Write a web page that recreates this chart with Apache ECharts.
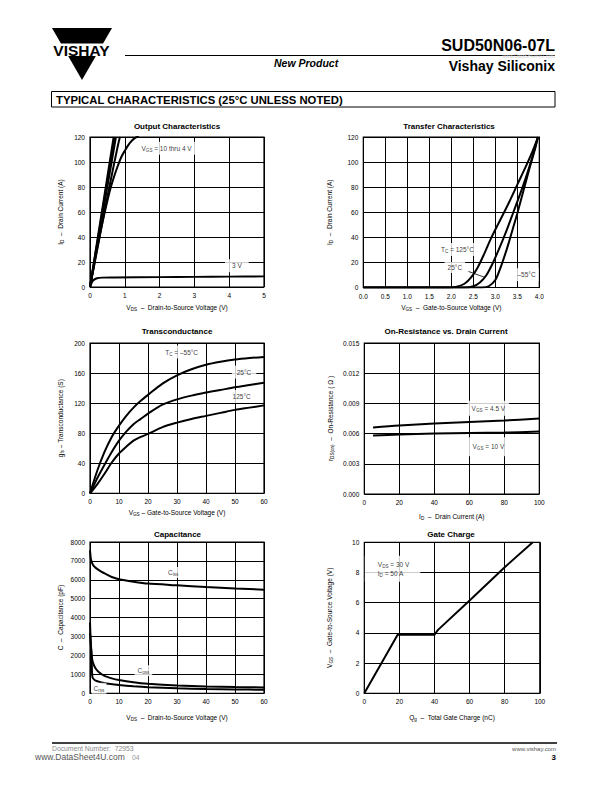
<!DOCTYPE html>
<html><head><meta charset="utf-8">
<script src="https://cdn.jsdelivr.net/npm/echarts@6/dist/echarts.min.js"></script>
<style>html,body{margin:0;padding:0;background:#fff}#c{width:612px;height:792px}</style>
</head><body><div id="c"></div>
<script>
// ---------------- DATA ----------------
// Output Characteristics (VDS V, ID A)
const outVgs10 = [[0,0],[0.68,120]];
const outVgs8  = [[0,0],[0.71,120]];
const outVgs6  = [[0,0],[0.745,120]];
const outVgs5  = [[0,0],[0.2,29],[0.4,58],[0.6,86],[0.8,113],[0.86,120]];
const outVgs4  = [[0,0],[0.1,15],[0.2,30],[0.3,44],[0.4,57],[0.5,69],[0.6,80],[0.7,89],[0.8,97],[0.9,104],[1.0,109],[1.1,113.5],[1.2,117],[1.3,119.3],[1.4,120.5]];
const outVgs3  = [[0,0],[0.05,3.5],[0.1,5.5],[0.2,7],[0.35,7.5],[0.7,7.6],[2,7.9],[3,8.1],[4,8.3],[5,8.5]];
// Transfer Characteristics (VGS V, ID A)
const tf125 = [[0,0],[1.9,0],[2.1,0.5],[2.3,3],[2.45,8],[2.6,16],[2.75,27],[2.9,39],[3.1,53],[3.3,67],[3.5,82],[3.7,97],[3.85,109],[3.97,120]];
const tf25  = [[0,0],[2.3,0],[2.5,1],[2.65,4],[2.8,10],[2.95,20],[3.1,32],[3.25,45],[3.4,59],[3.6,78],[3.8,99],[3.97,120]];
const tfM55 = [[0,0],[2.7,0],[2.85,1],[3.0,6],[3.1,14],[3.2,24],[3.3,35],[3.4,47],[3.5,59],[3.6,72],[3.7,85],[3.8,98],[3.9,110],[3.97,120]];
// Transconductance (VGS V, gfs S)
const gfsM55 = [[0,0],[2.5,30],[5,55],[7.5,75],[10,90],[12.5,103],[15,114],[17.5,123],[20,131],[25,146],[30,157],[35,165],[40,171],[45,175],[50,178],[55,180],[60,181.5]];
const gfs25  = [[0,0],[2.5,20],[5,38],[7.5,55],[10,70],[12.5,82],[15,92],[17.5,99],[20,106],[25,118],[30,125],[35,130],[40,134],[45,137.5],[50,141],[55,144],[60,147]];
const gfs125 = [[0,0],[2.5,12],[5,26],[7.5,41],[10,53],[12.5,62],[15,70],[17.5,75],[20,79],[25,88],[30,94],[35,99],[40,103],[45,107],[50,111],[55,114],[60,117]];
// On-Resistance (ID A, rDS(on) ohm)
const rdsVgs45 = [[5,0.0066],[20,0.0068],[40,0.0070],[60,0.00715],[80,0.0073],[100,0.0075]];
const rdsVgs10 = [[5,0.0058],[20,0.0059],[40,0.0060],[60,0.00605],[80,0.0061],[100,0.0062]];
// Capacitance (VDS V, C pF)
const cIss = [[0,7560],[0.3,7100],[0.6,6940],[1.2,6750],[2.3,6590],[4,6420],[5.7,6290],[7.5,6150],[10,6030],[15,5900],[20,5800],[30,5710],[40,5620],[50,5540],[60,5480]];
const cOss = [[0,3750],[0.2,2900],[0.4,2300],[0.7,1850],[1.1,1580],[2,1300],[3,1130],[5,920],[7.5,790],[10,700],[15,580],[20,500],[30,410],[40,360],[50,330],[60,310]];
const cRss = [[0,3200],[0.3,2600],[0.55,2000],[0.7,1100],[0.9,820],[1.5,720],[2.3,650],[4,570],[5.7,520],[10,440],[15,370],[20,320],[30,265],[40,230],[50,205],[60,185]];
// Gate Charge (Qg nC, VGS V)
const gateCharge = [[0,0],[19,3.88],[40,3.88],[42,4.2],[60,6.15],[80,8.35],[96,10]];

// Annotation texts at data coordinates
const outNotes = [{at:[2.2,111], text:'V{s|GS} = 10 thru 4 V', pad:[2,4]}, {at:[4.22,17], text:'3 V', pad:[2,7]}];
const tfNotes = [{at:[2.14,30.2], text:'T{s|C} = 125°C', pad:[2,4]}, {at:[2.08,16], text:'25°C', pad:[1,3]}, {at:[3.71,10.2], text:'–55°C', pad:[2,3]}];
const tfPointer = [[2.39,12.8],[2.77,8]];
const gfsNotes = [{at:[31.6,188], text:'T{s|C} = –55°C', pad:[2,4]}, {at:[53.1,161.3], text:'25°C', pad:[2,5]}, {at:[52.3,128.8], text:'125°C', pad:[2,3]}];
const rdsNotes = [{at:[70.9,0.00851], text:'V{s|GS} = 4.5 V', pad:[3,4]}, {at:[70.9,0.0047], text:'V{s|GS} = 10 V', pad:[5,4]}];
const capNotes = [{at:[28.7,6390], text:'C{s|iss}', pad:[1,2]}, {at:[18.4,1197], text:'C{s|oss}', pad:[1,3]}, {at:[3.1,265], text:'C{s|rss}', pad:[1,2]}];
const gateNotes = [{at:[0.0,8.25], text:'V{s|DS} = 30 V\nI{s|D} = 50 A', pad:[4,11,4,13], left:true}];

// Axis ranges
const outX = {min:0,max:5,interval:1}, outY = {min:0,max:120,interval:20};
const tfX = {min:0,max:4,interval:0.5}, tfY = {min:0,max:120,interval:20};
const gfsX = {min:0,max:60,interval:10}, gfsY = {min:0,max:200,interval:40};
const rdsX = {min:0,max:100,interval:20}, rdsY = {min:0,max:0.015,interval:0.003};
const capX = {min:0,max:60,interval:10}, capY = {min:0,max:8000,interval:1000};
const gateX = {min:0,max:100,interval:20}, gateY = {min:0,max:10,interval:2};

const titles = ['Output Characteristics','Transfer Characteristics','Transconductance','On-Resistance vs. Drain Current','Capacitance','Gate Charge'];

// ---------------- LAYOUT ----------------
const FONT = "'Liberation Sans', Arial, Helvetica, sans-serif";
const RICH = {s:{fontSize:4.6, lineHeight:5, verticalAlign:'bottom', fontFamily:FONT, color:'#000'}};
const grids = [
  {left:90, top:137, width:174, height:150},
  {left:363.3, top:137, width:176, height:150.5},
  {left:90, top:343, width:174, height:150.3},
  {left:364.3, top:343, width:175, height:151},
  {left:90, top:542, width:174, height:151.3},
  {left:364.3, top:542.3, width:175.5, height:151}
].map(g=>Object.assign({show:true, borderColor:'#000', borderWidth:1.2, backgroundColor:'transparent'}, g));

function xAx(gi, r, name, gap, fmt){
  return Object.assign({type:'value', gridIndex:gi, name, nameLocation:'middle', nameGap:gap,
    nameTextStyle:{fontSize:6.5, lineHeight:9, color:'#000', fontFamily:FONT, rich:RICH},
    axisLine:{show:false}, axisTick:{show:false},
    splitLine:{show:true, lineStyle:{color:'#000', width:1}},
    axisLabel:{fontSize:6.5, color:'#000', fontFamily:FONT, margin:5, formatter:fmt}}, r);
}
function yAx(gi, r, name, gap, fmt){
  const a = xAx(gi, r, name, gap, fmt); a.axisLabel.margin = 5; return a;
}
function ln(gi, data, smooth){
  return {type:'line', xAxisIndex:gi, yAxisIndex:gi, data, showSymbol:false, symbol:'none', smooth:smooth||false,
    lineStyle:{color:'#000', width:2}, itemStyle:{color:'#000'}, silent:true, z:3};
}
function notes(gi, arr){
  return {type:'scatter', xAxisIndex:gi, yAxisIndex:gi, symbolSize:1, silent:true, z:6,
    itemStyle:{color:'rgba(0,0,0,0)'},
    data: arr.map(n=>({value:n.at, label:{show:true, formatter:n.text, padding:n.pad,
      position: n.left ? 'right' : 'inside', distance:0, align: n.left ? 'left' : 'center'}})),
    label:{show:true, fontSize:6.5, lineHeight:9, color:'#000', fontFamily:FONT, backgroundColor:'#fff', rich:RICH}};
}
const f1 = v=>v.toFixed(1), f3 = v=>v.toFixed(3), f0 = v=>String(v);

const titlePos = [[177,126],[449,126],[177,331.7],[446,331.7],[177.5,534],[451,534]];
function txt(x,y,text,font,align,fill,va){
  return {type:'text', x, y, silent:true, z:10, style:{text, font, fill:fill||'#000', align:align||'left', textAlign:align||'left', verticalAlign:va||'middle', textVerticalAlign:va||'middle'}};
}
const graphic = [
  {type:'polygon', shape:{points:[[52,28],[112,28],[82,80]]}, style:{fill:'#000'}},
  {type:'rect', shape:{x:46,y:43.5,width:72,height:12.5}, style:{fill:'#fff'}},
  txt(81.5,50,'VISHAY','bold 15.5px '+FONT,'center'),
  {type:'line', shape:{x1:125,y1:55.5,x2:555,y2:55.5}, style:{stroke:'#000', lineWidth:1}},
  txt(555,45,'SUD50N06-07L','bold 16px '+FONT,'right'),
  txt(274,63,'New Product','italic bold 10.5px '+FONT,'left'),
  txt(555,65.6,'Vishay Siliconix','bold 14px '+FONT,'right'),
  txt(555,56,'www.DataSheet4U.com','5px '+FONT,'right','#d4d4d4'),
  {type:'rect', shape:{x:51.5,y:91.5,width:503.5,height:15.5}, style:{fill:'none', stroke:'#000', lineWidth:1}},
  txt(56,99.5,'TYPICAL CHARACTERISTICS (25°C UNLESS NOTED)','900 11.3px '+FONT,'left'),
  {type:'line', shape:{x1:52,y1:743,x2:557,y2:743}, style:{stroke:'#000', lineWidth:1.3}},
  txt(52,748.5,'Document Number:  72953','6.8px '+FONT,'left','#888'),
  txt(132,757,'04','6.8px '+FONT,'left','#999'),
  txt(35,757,'www.DataSheet4U.com','8.5px '+FONT,'left','#555'),
  txt(556,748.5,'www.vishay.com','6px '+FONT,'right','#555'),
  txt(556,757.5,'3','bold 8px '+FONT,'right')
].concat(titles.map((t,i)=>txt(titlePos[i][0], titlePos[i][1], t, 'bold 8px '+FONT, 'center')));

const option = {
  animation:false,
  backgroundColor:'#fff',
  grid: grids,
  xAxis: [
    xAx(0,outX,'V{s|DS}  –  Drain-to-Source Voltage (V)',15.5,f0),
    xAx(1,tfX,'V{s|GS}  –  Gate-to-Source Voltage (V)',15,f1),
    xAx(2,gfsX,'V{s|GS} – Gate-to-Source Voltage (V)',15,f0),
    xAx(3,rdsX,'I{s|D}  –  Drain Current (A)',18,f0),
    xAx(4,capX,'V{s|DS}  –  Drain-to-Source Voltage (V)',19.5,f0),
    xAx(5,gateX,'Q{s|g}  –  Total Gate Charge (nC)',20,f0)
  ],
  yAxis: [
    yAx(0,outY,'I{s|D}  –  Drain Current (A)',24.8,f0),
    yAx(1,tfY,'I{s|D}  –  Drain Current (A)',29.8,f0),
    yAx(2,gfsY,'g{s|fs} – Transconductance (S)',24.8,f0),
    yAx(3,rdsY,'r{s|DS(on)}  –  On-Resistance ( Ω )',29.8,f3),
    yAx(4,capY,'C  –  Capacitance (pF)',24.8,f0),
    yAx(5,gateY,'V{s|GS}  –  Gate-to-Source Voltage (V)',30.8,f0)
  ],
  series: [
    ln(0,outVgs10), ln(0,outVgs8), ln(0,outVgs6), ln(0,outVgs5,0.3), ln(0,outVgs4,0.3), ln(0,outVgs3,0.3),
    notes(0,outNotes),
    ln(1,tf125,0.3), ln(1,tf25,0.3),
    Object.assign(ln(1,tfM55,0.3), {markLine:{silent:true, symbol:['none','none'], label:{show:false}, lineStyle:{color:'#000', width:0.8, type:'solid'}, data:[[{coord:tfPointer[0]},{coord:tfPointer[1]}]]}}),
    notes(1,tfNotes),
    ln(2,gfsM55,0.3), ln(2,gfs25,0.3), ln(2,gfs125,0.3), notes(2,gfsNotes),
    ln(3,rdsVgs45,0.3), ln(3,rdsVgs10,0.3), notes(3,rdsNotes),
    ln(4,cIss,0.2), ln(4,cOss,0.2), ln(4,cRss,0.2), notes(4,capNotes),
    ln(5,gateCharge), notes(5,gateNotes)
  ],
  graphic: graphic
};
const chart = echarts.init(document.getElementById('c'), null, {renderer:'svg', width:612, height:792});
chart.setOption(option);
</script>
</body></html>
